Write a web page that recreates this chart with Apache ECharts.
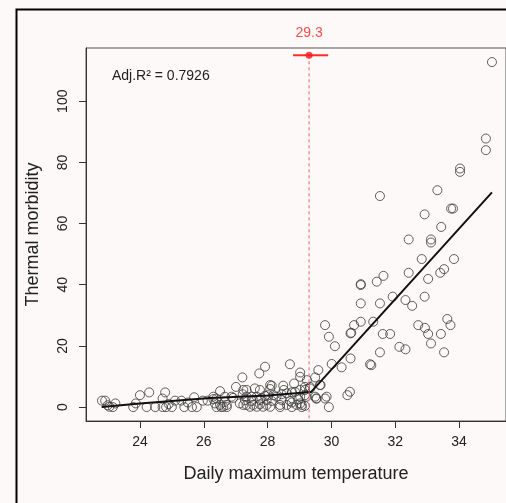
<!DOCTYPE html>
<html>
<head>
<meta charset="utf-8">
<script src="https://cdn.jsdelivr.net/npm/echarts@6/dist/echarts.min.js"></script>
<style>
html,body{margin:0;padding:0;background:#fcf9f8;}
#chart{width:506px;height:503px;}
</style>
</head>
<body>
<div id="chart"></div>
<script>
// ---- data ----
const xTicks = [24, 26, 28, 30, 32, 34];
const yTicks = [0, 20, 40, 60, 80, 100];

// observed points: [daily max temperature, thermal morbidity]
const obsX = [
  35.03, 34.84, 34.84, 34.03, 34.03, 33.32, 31.52, 33.75, 33.81, 32.92,
  33.44, 32.42, 33.12, 33.12, 32.83, 33.84, 31.63, 31.42, 32.42, 33.53,
  33.41, 33.03, 31.92, 32.32, 32.53, 32.92, 31.52, 30.92, 30.92, 30.92,
  31.31, 31.61, 31.84, 32.72, 32.93, 33.03, 33.43, 33.63, 33.73, 32.13,
  32.32, 33.12, 33.53, 31.52, 31.25, 29.80, 30.71, 30.92, 30.60, 30.62,
  29.92, 30.11, 30.60, 30.01, 30.32, 31.21, 29.59, 29.49, 29.66, 30.58,
  30.50, 29.52, 29.80, 29.92,
  22.81, 22.91, 22.99, 23.04, 23.23, 23.15, 23.87, 23.79, 24.00, 24.29,
  24.21, 24.48, 24.79, 24.71, 24.71, 24.82, 25.00, 24.90, 25.10, 25.30,
  25.39, 25.63, 25.70, 25.78, 25.50, 25.97, 26.12, 26.30, 26.40, 26.55,
  26.72,
  28.70, 27.92, 27.74, 27.21, 29.02, 29.02, 28.83, 29.23, 29.17, 27.01,
  26.51, 27.24, 27.34, 27.60, 27.76, 28.13, 28.08, 28.49, 28.51, 26.30,
  26.40, 26.66, 26.87, 26.92, 27.22, 27.34, 27.50, 27.66, 27.81, 27.92,
  28.02, 28.18, 28.28, 28.44, 28.60, 28.76, 28.86, 29.02, 29.17, 29.33,
  26.35, 26.51, 26.61, 26.72, 26.66, 27.13, 27.24, 27.34, 27.45, 27.55,
  27.66, 27.29, 27.50, 27.76, 27.86, 27.97, 28.08, 27.76, 27.97, 28.13,
  28.39, 28.60, 28.76, 28.91, 29.02, 29.17, 28.44, 28.70, 28.96, 29.02,
  29.17, 28.39, 28.76, 29.07, 28.08, 29.33, 29.64, 29.22, 29.49, 29.07,
  29.54, 29.85
];
const obsY = [
  112.8, 87.8, 84.0, 78.0, 76.9, 70.9, 69.0, 64.9, 64.9, 63.0,
  58.9, 54.8, 54.8, 53.8, 48.4, 48.4, 42.9, 41.0, 43.9, 45.1,
  43.9, 41.9, 36.1, 35.0, 33.1, 36.1, 33.9, 39.9, 40.2, 33.9,
  27.9, 23.9, 23.9, 26.8, 25.9, 23.9, 23.9, 28.8, 26.8, 19.7,
  18.9, 20.8, 17.9, 17.9, 13.7, 26.8, 26.8, 27.9, 24.1, 24.3,
  23.0, 19.9, 15.9, 14.1, 13.0, 14.0, 12.1, 9.7, 7.2, 5.0,
  3.9, 2.8, 2.8, 0.0,
  2.1, 2.1, 0.6, 0.1, 1.2, 0.0, 1.2, 0.0, 3.9, 4.8,
  0.0, 0.0, 4.8, 2.8, 0.0, 0.0, 0.0, 1.0, 2.1, 2.1,
  0.0, 0.0, 3.2, 0.0, 1.5, 2.1, 2.1, 2.6, 0.0, 0.0,
  0.0,
  14.0, 13.2, 11.0, 9.7, 11.3, 9.9, 7.7, 8.8, 6.6, 6.6,
  5.2, 5.6, 5.6, 6.1, 5.6, 7.0, 5.9, 7.0, 5.6, 3.4,
  2.8, 3.4, 3.4, 3.0, 4.2, 3.4, 3.4, 3.4, 3.0, 3.7,
  3.9, 3.9, 3.4, 4.2, 4.5, 4.8, 5.0, 5.6, 5.6, 6.1,
  1.2, 0.7, 0.1, 0.7, 1.7, 1.2, 0.7, 0.7, 0.1, 0.7,
  0.1, 2.3, 2.0, 0.9, 0.1, 0.7, 0.1, 2.3, 2.3, 2.0,
  0.7, 0.7, 1.5, 0.7, 1.2, 0.4, 2.3, 2.0, 2.5, 3.4,
  3.9, 0.0, 0.0, 0.0, 7.2, 6.6, 7.2, 3.4, 3.4, 0.7,
  2.8, 3.4
];

// segmented fit
const fitX = [22.8, 24.0, 26.2, 28.0, 29.36, 35.03];
const fitY = [0.0, 1.2, 3.0, 3.8, 4.9, 70.2];

// estimated breakpoint with its confidence interval
const breakpoint = 29.3;
const ciLow = 28.8;
const ciHigh = 29.9;
const bpLevel = 115.0;
const adjR2 = '0.7926';

const xMin = 22.31, xMax = 35.47;
const yMin = -4.55, yMax = 117.4;

// ---- chart ----
const points = obsX.map((x, i) => [x, obsY[i]]);
const fitLine = fitX.map((x, i) => [x, fitY[i]]);
const font = 'Liberation Sans, Arial, Helvetica, sans-serif';

const chart = echarts.init(document.getElementById('chart'), null, {renderer: 'canvas'});
chart.setOption({
  animation: false,
  backgroundColor: '#fcf9f8',
  grid: {left: 86, top: 48, right: 0, bottom: 82, show: true, borderColor: '#555', borderWidth: 1, backgroundColor: 'transparent'},
  xAxis: {
    type: 'value', min: xMin, max: xMax,
    name: 'Daily maximum temperature', nameLocation: 'middle', nameGap: 44,
    nameTextStyle: {fontSize: 18, color: '#222', fontFamily: font},
    axisLine: {show: true, onZero: false, lineStyle: {color: '#333', width: 1}},
    axisTick: {show: true, customValues: xTicks, length: 7, lineStyle: {color: '#333'}},
    axisLabel: {customValues: xTicks, fontSize: 14, color: '#222', margin: 14, fontFamily: font},
    splitLine: {show: false}
  },
  yAxis: {
    type: 'value', min: yMin, max: yMax,
    name: 'Thermal morbidity', nameLocation: 'middle', nameGap: 44, nameRotate: 90,
    nameTextStyle: {fontSize: 18, color: '#222', fontFamily: font},
    axisLine: {show: true, onZero: false, lineStyle: {color: '#333', width: 1}},
    axisTick: {show: true, customValues: yTicks, length: 7, lineStyle: {color: '#333'}},
    axisLabel: {customValues: yTicks, fontSize: 14, color: '#222', margin: 16, rotate: 90, fontFamily: font},
    splitLine: {show: false}
  },
  series: [
    {
      type: 'scatter', data: points, symbol: 'circle', symbolSize: 9,
      itemStyle: {color: 'rgba(0,0,0,0)', borderColor: '#3a3a3a', borderWidth: 1},
      z: 2
    },
    {
      type: 'line', data: fitLine, showSymbol: false,
      lineStyle: {color: '#111', width: 2}, z: 3
    },
    {
      type: 'line', data: [[breakpoint, bpLevel], [breakpoint, yMin]], showSymbol: false,
      lineStyle: {color: '#ff5a5a', width: 1, type: [3, 3]}, z: 4
    },
    {
      type: 'line', data: [[ciLow, bpLevel], [ciHigh, bpLevel]], showSymbol: false,
      lineStyle: {color: '#ff2a2a', width: 2}, z: 5
    },
    {
      type: 'scatter', data: [[breakpoint, bpLevel]], symbol: 'circle', symbolSize: 7,
      itemStyle: {color: '#ff1a1a'}, z: 6,
      label: {show: true, position: 'top', distance: 12, formatter: String(breakpoint),
              color: '#ff2020', fontSize: 14, fontFamily: font}
    }
  ],
  graphic: [
    {type: 'rect', left: 14, top: 7, shape: {width: 600, height: 600},
     style: {fill: 'none', stroke: '#000', lineWidth: 2}, silent: true},
    {type: 'text', left: 112, top: 69,
     style: {text: 'Adj.R² = ' + adjR2, fill: '#222', fontSize: 14, fontFamily: font}}
  ]
});
</script>
</body>
</html>
